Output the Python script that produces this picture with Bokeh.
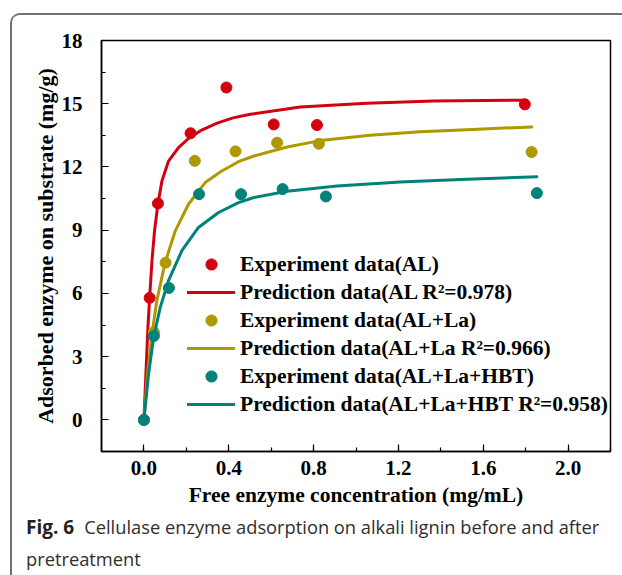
from bokeh.plotting import figure
from bokeh.models import Legend, LegendItem, FixedTicker, Div
from bokeh.layouts import column
from bokeh.embed import file_html
from bokeh.resources import INLINE

# ---- data ----
x_al = [0, 0.027, 0.066, 0.22, 0.389, 0.612, 0.816, 1.796]
y_al = [0, 5.79, 10.27, 13.6, 15.77, 14.02, 13.99, 14.97]
x_la = [0, 0.047, 0.102, 0.24, 0.432, 0.628, 0.825, 1.828]
y_la = [0, 4.16, 7.46, 12.29, 12.74, 13.15, 13.1, 12.71]
x_hbt = [0, 0.047, 0.118, 0.26, 0.458, 0.654, 0.858, 1.853]
y_hbt = [0, 3.98, 6.26, 10.71, 10.71, 10.95, 10.6, 10.76]

xc_al = [0, 0.0094, 0.019, 0.027, 0.038, 0.05, 0.066, 0.085, 0.116, 0.163, 0.21, 0.267, 0.345, 0.42,
         0.502, 0.737, 1.051, 1.365, 1.80]
yc_al = [0, 2.19, 4.4, 5.82, 7.55, 8.97, 10.24, 11.34, 12.28, 12.92, 13.35, 13.72, 14.08, 14.33,
         14.5, 14.84, 15.02, 15.13, 15.17]
xc_la = [0, 0.017, 0.038, 0.061, 0.10, 0.148, 0.21, 0.289, 0.367, 0.446, 0.518, 0.675, 0.831, 1.067,
         1.302, 1.522, 1.829]
yc_la = [0, 2.19, 4.08, 5.66, 7.47, 8.97, 10.23, 11.26, 11.81, 12.25, 12.52, 12.95, 13.25, 13.5,
         13.67, 13.77, 13.9]
xc_hbt = [0, 0.022, 0.046, 0.077, 0.116, 0.179, 0.257, 0.352, 0.446, 0.518, 0.675, 0.91, 1.208,
          1.522, 1.853]
yc_hbt = [0, 2.19, 3.92, 5.34, 6.61, 8.03, 9.13, 9.84, 10.31, 10.55, 10.85, 11.1, 11.29,
          11.42, 11.54]

x_ticks = [0.0, 0.4, 0.8, 1.2, 1.6, 2.0]
y_ticks = [0, 3, 6, 9, 12, 15, 18]

labels_exp = ["Experiment data(AL)", "Experiment data(AL+La)", "Experiment data(AL+La+HBT)"]
labels_pred = ["Prediction data(AL R\u00b2=0.978)", "Prediction data(AL+La R\u00b2=0.966)",
               "Prediction data(AL+La+HBT R\u00b2=0.958)"]
colors = ["#d40010", "#ae9900", "#00827a"]

caption_bold = "Fig. 6"
caption_line1 = "Cellulase enzyme adsorption on alkali lignin before and after"
caption_line2 = "pretreatment"

SERIF = "Liberation Serif"

p = figure(width=610, height=500, output_backend="svg", toolbar_location=None,
           x_range=(-0.2, 2.2), y_range=(-1.5, 18),
           min_border_left=89, min_border_right=12, min_border_top=25, min_border_bottom=64)
p.xgrid.visible = False
p.ygrid.visible = False
p.outline_line_color = "black"
p.outline_line_width = 1.5
p.background_fill_color = "white"
p.border_fill_color = "white"

for ax in (p.xaxis[0], p.yaxis[0]):
    ax.axis_line_width = 1.5
    ax.major_tick_in = 7
    ax.major_tick_out = 0
    ax.minor_tick_in = 4
    ax.minor_tick_out = 0
    ax.major_tick_line_width = 1.2
    ax.minor_tick_line_width = 1.2
    ax.major_label_text_font = SERIF
    ax.major_label_text_font_style = "bold"
    ax.major_label_text_font_size = "21px"
    ax.major_label_text_color = "black"
    ax.axis_label_text_font = SERIF
    ax.axis_label_text_font_style = "bold"
    ax.axis_label_text_color = "black"
p.xaxis.axis_label_text_font_size = "21.5px"
p.yaxis.axis_label_text_font_size = "22px"

p.xaxis.ticker = FixedTicker(ticks=x_ticks, minor_ticks=[-0.2 + 0.2 * i for i in range(13)])
p.yaxis.ticker = FixedTicker(ticks=y_ticks, minor_ticks=[-1.5 + 1.5 * i for i in range(14)])
p.xaxis.major_label_overrides = {t: f"{t:.1f}" for t in x_ticks}
p.xaxis.axis_label = "Free enzyme concentration (mg/mL)"
p.yaxis.axis_label = "Adsorbed enzyme on substrate (mg/g)"
p.xaxis.major_label_standoff = 9
p.yaxis.major_label_standoff = 19
p.xaxis.axis_label_standoff = 5
p.yaxis.axis_label_standoff = 1

items = []
for xs, ys, xc, yc, c, le, lp in [
        (x_al, y_al, xc_al, yc_al, colors[0], labels_exp[0], labels_pred[0]),
        (x_la, y_la, xc_la, yc_la, colors[1], labels_exp[1], labels_pred[1]),
        (x_hbt, y_hbt, xc_hbt, yc_hbt, colors[2], labels_exp[2], labels_pred[2])]:
    ln = p.line(xc, yc, line_color=c, line_width=3, line_join="round", line_cap="round")
    sc = p.scatter(xs, ys, size=11, fill_color=c, line_color=c)
    items.append(LegendItem(label=le, renderers=[sc]))
    items.append(LegendItem(label=lp, renderers=[ln]))

legend = Legend(items=items, location=(86, 33), margin=0, padding=0,
                glyph_width=48, glyph_height=28, label_height=28, spacing=0,
                label_standoff=5, border_line_color=None, background_fill_alpha=0,
                label_text_font=SERIF, label_text_font_style="bold",
                label_text_font_size="21.5px", label_text_color="black")
p.add_layout(legend, "center")

cap_html = (
    '<div style="position:relative; top:-9px; padding-left:9px; white-space:nowrap; '
    'font-family:\'Open Sans\'; font-size:18.3px; line-height:32px; color:#2f2f2f;">'
    f'<span style="font-weight:700; font-size:19px; color:#222;">{caption_bold}</span>'
    f'<span style="margin-left:10px;">{caption_line1}</span><br>{caption_line2}</div>'
)
cap = Div(text=cap_html, width=610, height=60)

layout = column(p, cap, spacing=0, margin=(13, 0, 0, 10))
layout.styles = {"border-left": "2px solid #707070", "border-top": "2px solid #707070",
                 "border-top-left-radius": "10px", "overflow": "hidden",
                 "background-color": "white"}

open("out.html", "w").write(file_html(layout, INLINE))
